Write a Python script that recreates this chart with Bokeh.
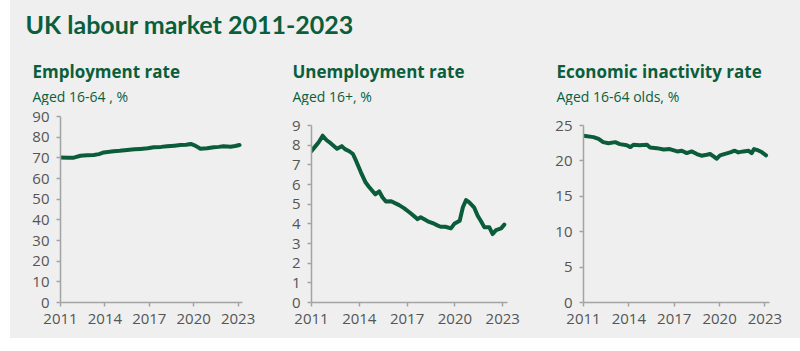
from bokeh.plotting import figure
from bokeh.layouts import row, column, Spacer
from bokeh.models import Range1d, FixedTicker
from bokeh.core.properties import value
from bokeh.embed import file_html
from bokeh.resources import INLINE

# ---------------- data ----------------
main_title = "UK labour market 2011-2023"
panel_titles = ["Employment rate", "Unemployment rate", "Economic inactivity rate"]
panel_subtitles = ["Aged 16-64 , %", "Aged 16+, %", "Aged 16-64 olds, %"]
year_ticks = [2011, 2014, 2017, 2020, 2023]

emp_years = [2011.0, 2011.5, 2011.9, 2012.35, 2012.8, 2013.25, 2013.6, 2013.93, 2014.3, 2014.6,
             2015.0, 2015.5, 2016.0, 2016.4, 2016.9, 2017.3, 2017.8, 2018.2, 2018.7, 2019.1,
             2019.5, 2019.8, 2020.1, 2020.46, 2020.9, 2021.36, 2021.7, 2022.0, 2022.5, 2022.8, 2023.1]
emp_rate = [70.2, 70.1, 70.1, 71.0, 71.2, 71.4, 71.8, 72.6, 72.9, 73.2,
            73.4, 73.8, 74.1, 74.3, 74.6, 75.1, 75.3, 75.6, 75.9, 76.2,
            76.3, 76.7, 75.9, 74.4, 74.6, 75.1, 75.3, 75.6, 75.4, 75.7, 76.2]

unemp_years = [2011.0, 2011.2, 2011.45, 2011.7, 2011.95, 2012.2, 2012.6, 2012.9, 2013.1, 2013.37,
               2013.6, 2013.8, 2014.1, 2014.4, 2014.6, 2015.0, 2015.25, 2015.45, 2015.67, 2016.0,
               2016.5, 2016.8, 2017.2, 2017.66, 2017.85, 2018.3, 2018.6, 2018.9, 2019.1, 2019.4,
               2019.75, 2019.96, 2020.3, 2020.5, 2020.7, 2020.9, 2021.2, 2021.43, 2021.64, 2021.85,
               2022.16, 2022.37, 2022.58, 2022.9, 2023.1]
unemp_rate = [7.7, 7.9, 8.15, 8.48, 8.25, 8.1, 7.82, 7.95, 7.8, 7.69,
              7.55, 7.2, 6.62, 6.1, 5.89, 5.5, 5.65, 5.35, 5.13, 5.15,
              4.95, 4.8, 4.55, 4.24, 4.33, 4.13, 4.04, 3.92, 3.85, 3.85,
              3.77, 4.0, 4.16, 4.84, 5.21, 5.09, 4.84, 4.41, 4.13, 3.82,
              3.82, 3.48, 3.68, 3.77, 3.96]

inact_years = [2011.0, 2011.66, 2012.0, 2012.3, 2012.65, 2013.1, 2013.4, 2013.86, 2014.1, 2014.3,
               2014.7, 2015.2, 2015.4, 2015.85, 2016.3, 2016.7, 2017.2, 2017.5, 2017.83, 2018.15,
               2018.5, 2018.8, 2019.15, 2019.37, 2019.6, 2019.8, 2020.03, 2020.36, 2020.7, 2021.0,
               2021.24, 2021.57, 2021.9, 2022.12, 2022.28, 2022.56, 2022.78, 2023.07]
inact_rate = [23.55, 23.36, 23.1, 22.65, 22.5, 22.65, 22.37, 22.2, 21.95, 22.28,
              22.2, 22.28, 21.9, 21.8, 21.6, 21.67, 21.34, 21.44, 21.1, 21.34,
              20.97, 20.73, 20.87, 20.97, 20.64, 20.31, 20.78, 21.0, 21.2, 21.44,
              21.2, 21.34, 21.44, 21.1, 21.67, 21.48, 21.25, 20.78]

y_max = [90, 9, 25]
y_ticks = [list(range(0, 91, 10)), list(range(0, 10)), list(range(0, 26, 5))]

# ---------------- styles ----------------
BG = "#efefef"
GREEN = "#0b5e3b"
LINE_GREEN = "#0b5c3a"
AXIS = "#a3a3a3"
TICK_TXT = "#555555"
FONT = "Open Sans"
TITLE_H = 105

# ---------------- title strip ----------------
tf = figure(title=None, width=790, height=TITLE_H, x_range=Range1d(10, 800),
            y_range=Range1d(TITLE_H, 0), x_axis_type=None, y_axis_type=None,
            toolbar_location=None, output_backend="svg", min_border=0, outline_line_color=None)
tf.background_fill_color = BG
tf.border_fill_color = BG
tf.grid.visible = False
tf.text(x=[25], y=[23.5], text=[main_title], text_font=value("Lato"), text_font_style="bold",
        text_font_size="25px", text_color=GREEN, text_baseline="alphabetic")
tf.text(x=[32, 292, 556], y=[71] * 3, text=panel_titles, text_font=value(FONT),
        text_font_style="bold", text_font_size="17px", text_color=GREEN,
        text_baseline="alphabetic")
tf.text(x=[32, 292, 556], y=[95.5] * 3, text=panel_subtitles, text_font=value(FONT),
        text_font_size="14px", text_color=GREEN, text_baseline="alphabetic")

# ---------------- panels ----------------
series = [(emp_years, emp_rate), (unemp_years, unemp_rate), (inact_years, inact_rate)]
FRAME_H = 186          # all frames share top/bottom; axis bounds shorten the shorter ones
axis_h = [186, 177, 177]  # pixel height of each y axis line
geoms = [  # frame_width, left, right
    (182, 50, 28),
    (196, 41, 28),
    (186, 48, 31),
]
figs = []
for i, ((xs, ys), g) in enumerate(zip(series, geoms)):
    fw, bl, br = g
    top = y_max[i] * FRAME_H / axis_h[i]
    p = figure(title=None, frame_width=fw, frame_height=FRAME_H, x_range=Range1d(2011, 2023.3),
               y_range=Range1d(0, top), toolbar_location=None, output_backend="svg",
               min_border_left=bl, min_border_right=br, min_border_top=11,
               min_border_bottom=36, outline_line_color=None)
    p.background_fill_color = BG
    p.border_fill_color = BG
    p.grid.visible = False
    p.xaxis.ticker = FixedTicker(ticks=year_ticks)
    p.yaxis.ticker = FixedTicker(ticks=y_ticks[i])
    p.yaxis.bounds = (0, y_max[i])
    for ax in (p.xaxis, p.yaxis):
        ax.axis_line_color = AXIS
        ax.axis_line_width = 1.5
        ax.major_tick_line_color = AXIS
        ax.major_tick_line_width = 1.5
        ax.major_tick_out = 4
        ax.major_tick_in = 0
        ax.minor_tick_line_color = None
        ax.major_label_text_font = FONT
        ax.major_label_text_font_size = "15px"
        ax.major_label_text_color = TICK_TXT
        ax.major_label_standoff = 7
    p.line(xs, ys, line_width=4, line_color=LINE_GREEN, line_join="round", line_cap="round")
    figs.append(p)

panels = row(*figs, styles={"background-color": BG})
inner = column(tf, panels, styles={"background-color": BG})
left_pad = Spacer(width=10, height=351, styles={"background-color": "white"})
bottom_pad = Spacer(width=790, height=13, styles={"background-color": "white"})
layout = row(left_pad, column(inner, bottom_pad), styles={"background-color": BG})

open("out.html", "w").write(file_html(layout, INLINE))
